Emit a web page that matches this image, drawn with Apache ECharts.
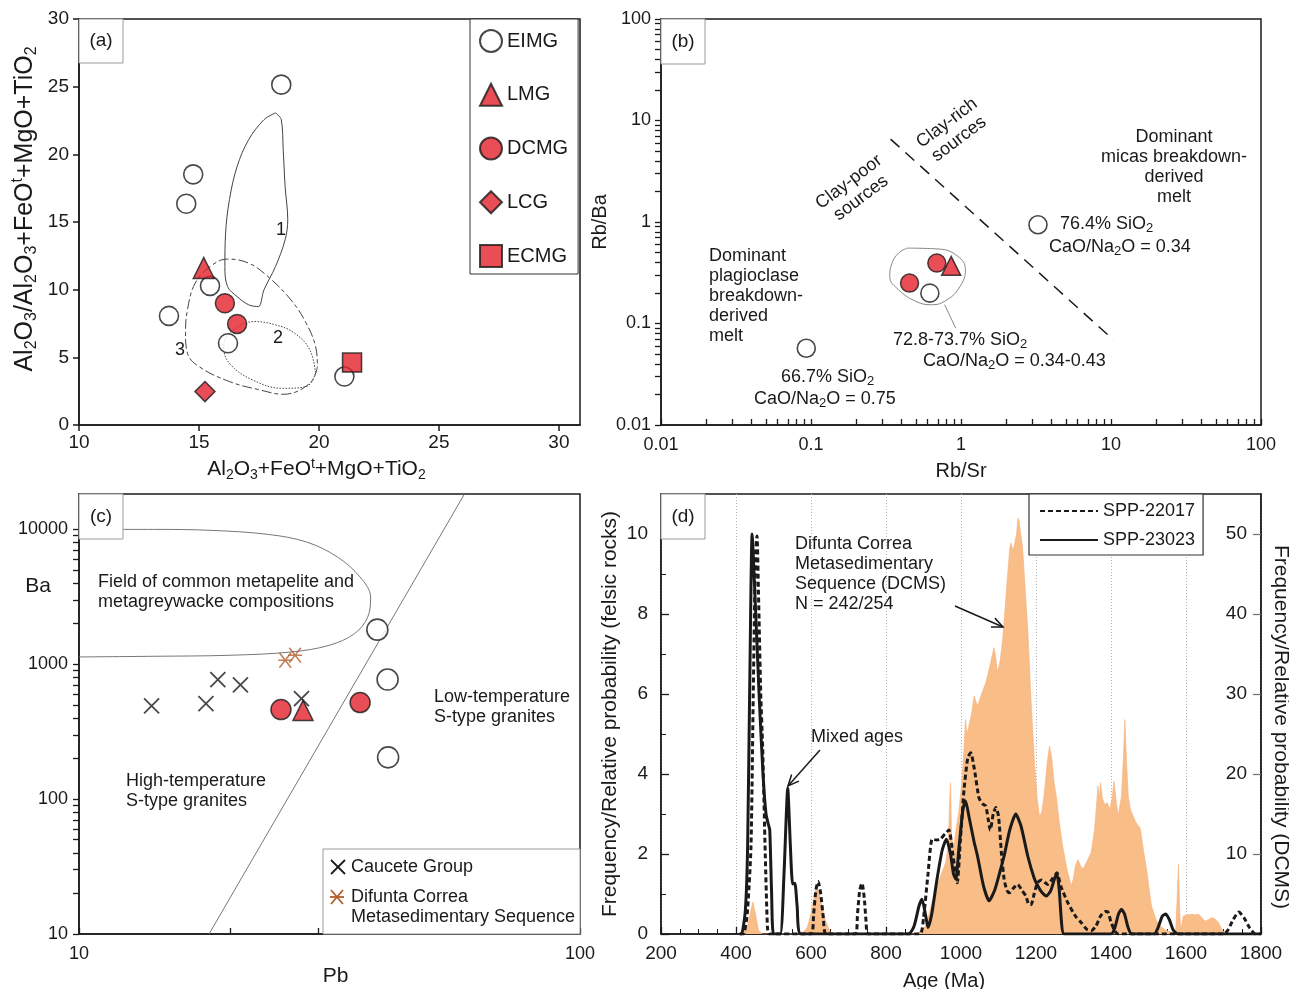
<!DOCTYPE html>
<html><head><meta charset="utf-8">
<script src="https://cdn.jsdelivr.net/npm/echarts@6/dist/echarts.min.js"></script>
<style>html,body{margin:0;padding:0;background:#fff}#c{width:1289px;height:989px}</style>
</head><body><div id="c"></div>
<script>
// ---------------- Panel (a) data ----------------
const aEIMG = [[18.43,25.15],[14.76,18.52],[14.47,16.35],[15.46,10.28],[13.75,8.06],[16.21,6.04],[21.06,3.58]];
const aLMG  = [[15.2,11.6]];
const aDCMG = [[16.08,9.0],[16.59,7.47]];
const aLCG  = [[15.25,2.47]];
const aECMG = [[21.38,4.61]];
const aField1 = [[18.19,23.06],[18.43,22.56],[18.51,20.35],[18.59,17.63],[18.70,15.17],[18.59,13.69],[18.19,11.71],[17.71,9.99],[17.47,8.75],[17.07,8.88],[16.59,9.49],[16.19,10.23],[16.08,11.71],[16.11,14.18],[16.27,16.65],[16.59,19.11],[17.07,21.08],[17.71,22.56],[18.19,23.06]];
const aField2 = [[19.86,3.82],[19.47,2.84],[18.51,2.71],[17.23,3.33],[16.27,4.56],[16.03,5.80],[16.35,6.91],[17.31,7.64],[18.19,7.40],[18.99,6.78],[19.62,5.55],[19.86,3.82]];
const aField3 = [[19.94,4.32],[19.62,3.08],[18.51,2.27],[17.55,2.59],[16.27,3.21],[15.0,4.32],[14.52,5.30],[14.44,6.78],[14.52,8.51],[14.84,10.48],[15.47,11.71],[16.19,12.26],[17.07,11.96],[17.87,10.97],[18.83,9.25],[19.47,7.52],[19.86,5.80],[19.94,4.32]];
const aXTicks = [10,15,20,25,30];
const aYTicks = [0,5,10,15,20,25,30];

// ---------------- Panel (b) data ----------------
const bEIMG = [[0.093,0.057],[3.26,0.94],[0.62,0.199]];
const bLMG  = [[0.86,0.37]];
const bDCMG = [[0.454,0.25],[0.69,0.394]];
const bDivider = [[0.339,6.56],[10.4,0.0689]];
const bOutline = [[0.438,0.553],[0.704,0.542],[0.953,0.459],[1.07,0.339],[0.986,0.232],[0.806,0.171],[0.636,0.153],[0.502,0.165],[0.384,0.215],[0.335,0.291],[0.347,0.394],[0.384,0.494],[0.438,0.553]];
const bLeader = [[0.778,0.153],[0.922,0.09]];
const bTicks = [0.01,0.1,1,10,100];

// ---------------- Panel (c) data ----------------
const cCaucete = [[13.96,491],[17.92,511],[18.93,769],[21.0,703],[27.8,557]];
const cDCMS = [[25.8,1071],[27.0,1166]];
const cDCMG = [[25.3,461],[36.4,520]];
const cLMG  = [[28.0,455]];
const cEIMG = [[39.4,1806],[41.3,770],[41.4,204]];
const cBoundary = [[18.18,10],[58.8,18300]];
const cField = [[10,10000],[14.09,10000],[18.34,9840],[23.87,9180],[28.5,8050],[32.8,6240],[36.4,4430],[38.2,3150],[37.7,2240],[35.5,1690],[31.6,1383],[26.5,1233],[20.0,1166],[14.1,1146],[10,1133]];
const cXTicks = [10,100];
const cYTicks = [10,100,1000,10000];

// ---------------- Panel (d) data ----------------
const dSPP23023 = [[410,0],[415,0],[425,0.6],[431,2.2],[437,6.5],[443,10.0],[450,8.6],[462,5.9],[472,4.0],[480,3.0],[486,2.75],[490,2.6],[495,1.0],[500,0],[518,0],[528,1.5],[538,3.65],[545,2.2],[551,1.25],[557,1.27],[563,0.7],[573,0],[860,0],[875,0.2],[888,0.7],[896,0.87],[905,0.5],[912,0.16],[922,0.5],[936,1.37],[950,2.1],[961,2.37],[972,2.0],[980,1.5],[986,1.37],[995,2.2],[1005,3.1],[1012,3.33],[1022,2.9],[1035,2.3],[1044,1.95],[1060,1.2],[1075,0.83],[1090,1.1],[1105,1.6],[1115,1.95],[1130,2.6],[1146,3.0],[1160,2.7],[1178,1.95],[1195,1.4],[1205,1.2],[1215,1.05],[1228,0.95],[1240,1.1],[1250,1.4],[1256,1.5],[1262,1.1],[1268,0.3],[1275,0],[1400,0],[1410,0.15],[1420,0.5],[1428,0.62],[1436,0.5],[1446,0.15],[1455,0],[1515,0],[1525,0.15],[1537,0.45],[1546,0.5],[1556,0.35],[1566,0.1],[1578,0],[1800,0]];
const dSPP22017 = [[410,0],[420,0],[430,0.5],[440,2.2],[446,6],[452,9.5],[456,9.95],[460,8.5],[466,6.0],[471,4.7],[478,2.0],[484,0.15],[489,0],[600,0],[607,0.5],[613,1.1],[619,1.31],[626,1.0],[633,0.4],[640,0],[718,0],[724,0.5],[730,1.1],[736,1.27],[742,0.9],[747,0.3],[752,0],[890,0],[900,0.4],[912,1.5],[923,2.37],[935,2.35],[945,2.37],[957,2.5],[968,2.6],[978,2.0],[990,1.28],[998,2.3],[1008,3.6],[1018,4.4],[1026,4.53],[1036,4.1],[1048,3.4],[1058,3.25],[1066,3.2],[1072,2.9],[1078,2.6],[1086,3.0],[1093,3.16],[1100,2.95],[1108,2.0],[1115,1.37],[1122,1.1],[1129,1.03],[1140,1.15],[1151,1.24],[1162,1.1],[1173,0.95],[1180,0.75],[1187,0.74],[1195,1.0],[1204,1.28],[1215,1.35],[1231,1.24],[1245,1.4],[1256,1.53],[1266,1.2],[1285,0.78],[1305,0.45],[1321,0.28],[1335,0.12],[1347,0.08],[1360,0.2],[1372,0.45],[1385,0.56],[1392,0.55],[1400,0.3],[1410,0.08],[1419,0],[1700,0],[1712,0.1],[1725,0.35],[1741,0.55],[1755,0.4],[1770,0.15],[1785,0],[1800,0]];
const dDCMS = [[415,0],[430,0.8],[440,3.0],[445,4.0],[452,2.5],[460,0.5],[470,0],[575,0],[590,0.8],[600,2.5],[608,4.5],[614,5.9],[622,5.0],[630,3.2],[640,1.5],[653,0],[880,0],[895,0.5],[905,1],[915,2.5],[927,4.75],[940,6.5],[950,7.8],[959,8.9],[966,11],[970,17],[972,18.9],[975,12],[981,11],[988,13.5],[994,15.2],[1002,19],[1008,23.1],[1012,26.8],[1016,25],[1021,24.75],[1028,27.5],[1035,29.75],[1040,29.5],[1044,28.5],[1055,30],[1066,31.4],[1072,32.5],[1079,33.9],[1084,35],[1088,35.8],[1093,34.5],[1097,32.7],[1104,34],[1111,36.8],[1118,41],[1124,44.75],[1130,48.2],[1133,48.9],[1138,48],[1142,48.5],[1148,50],[1152,52],[1155,51.6],[1159,50],[1164,48.5],[1170,44],[1178,38.1],[1187,29],[1196,21.4],[1203,17],[1209,14.75],[1215,15.2],[1222,17.5],[1230,21.5],[1236,23.5],[1242,22],[1248,19],[1254,17.25],[1262,14],[1271,11],[1283,8],[1294,6],[1300,7],[1305,8.5],[1312,9.3],[1318,8.6],[1325,8.1],[1335,9],[1347,10.2],[1356,13],[1362,16.5],[1365,18.5],[1369,17],[1372,18.9],[1377,17],[1383,16.2],[1390,16.4],[1397,15.6],[1403,17],[1408,19.1],[1413,17],[1419,14.75],[1424,15],[1428,17.25],[1433,22],[1437,26.8],[1441,22],[1446,17.25],[1452,15.5],[1459,14.75],[1466,14],[1473,13.5],[1478,13.2],[1482,13.1],[1488,10],[1495,8.1],[1502,5.5],[1508,3.5],[1520,1.8],[1531,1],[1545,0.5],[1562,0.2],[1572,0.2],[1576,4],[1580,8.7],[1583,3],[1586,0.5],[1593,2.25],[1605,2.4],[1616,2.46],[1625,2.4],[1634,2.46],[1643,2.0],[1651,1.6],[1660,1.8],[1667,2.0],[1674,2.0],[1681,1.7],[1687,1.4],[1695,0.6],[1705,0]];
const dLeftTicks = [0,2,4,6,8,10];
const dRightTicks = [10,20,30,40,50];

// ---------------- styling ----------------
const FF = '"Liberation Sans", Arial, Helvetica, sans-serif';
const INK = '#1a1a1a';
const RED = '#E3202A';
const ORANGE = '#F9BD88';
const BROWN = '#B35E2C';
function richFor(sub) {
  return {
    s: {fontSize: sub, lineHeight: sub - 1, verticalAlign: 'bottom', fontFamily: FF, color: INK, fill: INK},
    t: {fontSize: sub, lineHeight: sub - 1, verticalAlign: 'top', fontFamily: FF, color: INK, fill: INK}
  };
}
const RICH = richFor(13);
function minorLog(e0, e1) {
  const out = [];
  for (let e = e0; e < e1; e++) for (let m = 1; m <= 9; m++) out.push(+(m * Math.pow(10, e)).toPrecision(3));
  out.push(+Math.pow(10, e1).toPrecision(3));
  return out;
}
const fmt = v => String(+(+v).toPrecision(6));
const axLine = {show: true, onZero: false, lineStyle: {color: INK, width: 1.5}};
function nameStyle(sz, extra) {
  return Object.assign({fontSize: sz, color: INK, fontFamily: FF, lineHeight: Math.round(sz * 1.2), rich: richFor(Math.round(sz * 0.65))}, extra || {});
}

const chart = echarts.init(document.getElementById('c'), null, {renderer: 'canvas'});

function gridBox(left, top, width, height) {
  return {left, top, width, height, show: true, borderColor: INK, borderWidth: 1.5, containLabel: false, outerBoundsMode: 'none'};
}

// graphic helpers
function T(x, y, text, o) {
  return {type: 'text', x, y, z: 50, silent: true,
    style: Object.assign({text, fontSize: 18, fontFamily: FF, fill: INK, align: 'left', verticalAlign: 'middle', lineHeight: 20, rich: RICH}, o || {})};
}
function box(x, y, w, h, label) {
  return [
    {type: 'rect', z: 60, silent: true, shape: {x, y, width: w, height: h}, style: {fill: '#fff', stroke: '#9a9a9a', lineWidth: 1}},
    {type: 'text', z: 61, silent: true, x: x + w / 2, y: y + h / 2, style: {text: label, fontSize: 19, fontFamily: FF, fill: INK, align: 'center', verticalAlign: 'middle'}}
  ];
}
function arrow(x1, y1, x2, y2) {
  const ang = Math.atan2(y2 - y1, x2 - x1), L = 12, a = 0.42;
  const p1 = [x2 - L * Math.cos(ang - a), y2 - L * Math.sin(ang - a)];
  const p2 = [x2 - L * Math.cos(ang + a), y2 - L * Math.sin(ang + a)];
  return [
    {type: 'line', z: 50, silent: true, shape: {x1, y1, x2, y2}, style: {stroke: INK, lineWidth: 1.5}},
    {type: 'polyline', z: 50, silent: true, shape: {points: [p1, [x2, y2], p2]}, style: {stroke: INK, lineWidth: 1.5, fill: null}}
  ];
}
function seg(p, q, color, w) {
  return {type: 'polyline', z: 41, silent: true, shape: {points: [p, q]}, style: {stroke: color, lineWidth: w, fill: null}};
}

const redItem = {color: RED, borderColor: INK, borderWidth: 1.5};
const openItem = {color: '#fff', borderColor: INK, borderWidth: 1.6};
const curve = (name, data, xi, yi, ls, smooth) => ({
  name, type: 'line', xAxisIndex: xi, yAxisIndex: yi, data, showSymbol: false, symbol: 'none',
  smooth: smooth, lineStyle: ls, silent: true, z: 1, clip: true
});
const sc = (name, data, xi, yi, symbol, size, item, z) => ({
  name, type: 'scatter', xAxisIndex: xi, yAxisIndex: yi, data, symbol, symbolSize: size, itemStyle: item, z: z || 3, silent: true
});
const XPATH = 'path://M0,0L10,10M10,0L0,10';
const ASTPATH = 'path://M1,0L11,12M11,0L1,12M0,6L12,6';

const option = {
  animation: false,
  backgroundColor: '#fff',
  textStyle: {fontFamily: FF},
  grid: [
    gridBox(79, 19, 501, 406),
    gridBox(661, 19, 600, 406),
    gridBox(79, 494, 501, 440),
    gridBox(661, 494, 600, 440)
  ],
  xAxis: [
    {gridIndex: 0, type: 'value', min: 10, max: 30.88, interval: 5,
      name: 'Al{s|2}O{s|3}+FeO{t|t}+MgO+TiO{s|2}', nameLocation: 'middle', nameGap: 32,
      nameTextStyle: nameStyle(21, {padding: [0, 26, 0, 0]}),
      axisLine: axLine, axisTick: {show: true, inside: false, length: 6, lineStyle: {color: INK, width: 1.5}, customValues: aXTicks},
      axisLabel: {fontSize: 19, color: INK, margin: 8, customValues: aXTicks}, splitLine: {show: false}},
    {gridIndex: 1, type: 'log', logBase: 10, min: 0.01, max: 100,
      name: 'Rb/Sr', nameLocation: 'middle', nameGap: 34, nameTextStyle: nameStyle(20),
      axisLine: axLine, axisTick: {show: true, inside: true, length: 6, lineStyle: {color: INK, width: 1.3}, customValues: minorLog(-2, 2)},
      axisLabel: {fontSize: 18, color: INK, margin: 11, customValues: bTicks, formatter: fmt}, splitLine: {show: false}, minorTick: {show: false}},
    {gridIndex: 2, type: 'log', logBase: 10, min: 10, max: 100,
      name: 'Pb', nameLocation: 'middle', nameGap: 29, nameTextStyle: nameStyle(21, {padding: [0, 0, 0, 12]}),
      axisLine: axLine, axisTick: {show: true, inside: true, length: 6, lineStyle: {color: INK, width: 1.3}, customValues: minorLog(1, 2)},
      axisLabel: {fontSize: 18, color: INK, margin: 11, customValues: cXTicks, formatter: fmt}, splitLine: {show: false}},
    {gridIndex: 3, type: 'value', min: 200, max: 1800, interval: 200,
      name: 'Age (Ma)', nameLocation: 'middle', nameGap: 35, nameTextStyle: nameStyle(20, {padding: [0, 34, 0, 0]}),
      axisLine: axLine, axisTick: {show: true, inside: true, length: 7, lineStyle: {color: INK, width: 1.3}},
      minorTick: {show: true, splitNumber: 4, length: 5, lineStyle: {color: INK, width: 1}},
      axisLabel: {fontSize: 19, color: INK, margin: 10, formatter: v => String(v)},
      splitLine: {show: true, lineStyle: {color: '#b5b5b5', width: 1, type: [1, 2]}}}
  ],
  yAxis: [
    {gridIndex: 0, type: 'value', min: 0, max: 30, interval: 5,
      name: 'Al{s|2}O{s|3}/Al{s|2}O{s|3}+FeO{t|t}+MgO+TiO{s|2}', nameLocation: 'middle', nameGap: 39,
      nameTextStyle: nameStyle(25, {padding: [0, 0, 0, 26]}),
      axisLine: axLine, axisTick: {show: true, inside: false, length: 6, lineStyle: {color: INK, width: 1.5}, customValues: aYTicks},
      axisLabel: {fontSize: 19, color: INK, margin: 10, customValues: aYTicks}, splitLine: {show: false}},
    {gridIndex: 1, type: 'log', logBase: 10, min: 0.01, max: 100,
      name: 'Rb/Ba', nameLocation: 'middle', nameGap: 43, nameTextStyle: nameStyle(20),
      axisLine: axLine, axisTick: {show: true, inside: false, length: 6, lineStyle: {color: INK, width: 1.3}, customValues: minorLog(-2, 2)},
      axisLabel: {fontSize: 18, color: INK, margin: 10, customValues: bTicks, formatter: fmt}, splitLine: {show: false}},
    {gridIndex: 2, type: 'log', logBase: 10, min: 10, max: 18300,
      axisLine: axLine, axisTick: {show: true, inside: false, length: 6, lineStyle: {color: INK, width: 1.3}, customValues: minorLog(1, 4)},
      axisLabel: {fontSize: 18, color: INK, margin: 11, customValues: cYTicks, formatter: fmt}, splitLine: {show: false}},
    {gridIndex: 3, type: 'value', min: 0, max: 11, interval: 2, position: 'left',
      name: 'Frequency/Relative probability (felsic rocks)', nameLocation: 'middle', nameGap: 35, nameTextStyle: nameStyle(21),
      axisLine: axLine, axisTick: {show: true, inside: true, length: 8, lineStyle: {color: INK, width: 1.3}, customValues: dLeftTicks},
      minorTick: {show: true, splitNumber: 2, length: 5, lineStyle: {color: INK, width: 1}},
      axisLabel: {fontSize: 19, color: INK, margin: 13, customValues: dLeftTicks}, splitLine: {show: false}},
    {gridIndex: 3, type: 'value', min: 0, max: 55, interval: 10, position: 'right',
      name: 'Frequency/Relative probability (DCMS)', nameLocation: 'middle', nameGap: 7, nameRotate: -90,
      nameTextStyle: nameStyle(21, {padding: [0, 0, 0, 26]}),
      axisLine: axLine, axisTick: {show: true, inside: true, length: 8, lineStyle: {color: '#777', width: 1.3}, customValues: dRightTicks},
      axisLabel: {fontSize: 19, color: INK, margin: 14, inside: true, customValues: dRightTicks}, splitLine: {show: false}}
  ],
  legend: [
    {data: ['EIMG', 'LMG', 'DCMG', 'LCG', 'ECMG'], orient: 'vertical', left: 470, top: 19,
      padding: [10, 10, 6, 9], itemGap: 29.75, itemWidth: 22, itemHeight: 22, selectedMode: false,
      textStyle: {fontSize: 20, color: INK, fontFamily: FF}, borderColor: '#333', borderWidth: 1, backgroundColor: '#fff', z: 20},
    {data: ['SPP-22017', 'SPP-23023'], orient: 'vertical', left: 1029, top: 494,
      padding: [8, 8, 6, 10], itemGap: 11, itemWidth: 58, itemHeight: 14, selectedMode: false,
      itemStyle: {opacity: 0},
      textStyle: {fontSize: 18, color: INK, fontFamily: FF}, borderColor: '#333', borderWidth: 1.2, backgroundColor: '#fff', z: 20}
  ],
  series: [
    // (a)
    curve('field1', aField1, 0, 0, {color: '#444', width: 1}, 0.35),
    curve('field2', aField2, 0, 0, {color: '#444', width: 1, type: [1.5, 1.5]}, 0.4),
    curve('field3', aField3, 0, 0, {color: '#444', width: 1, type: [10, 3, 4, 3]}, 0.4),
    sc('EIMG', aEIMG, 0, 0, 'circle', 19, openItem),
    sc('LMG', aLMG, 0, 0, 'triangle', 21, redItem, 4),
    sc('DCMG', aDCMG, 0, 0, 'circle', 19, redItem),
    sc('LCG', aLCG, 0, 0, 'diamond', 20, redItem),
    sc('ECMG', aECMG, 0, 0, 'rect', 19, redItem),
    // (b)
    curve('divider', bDivider, 1, 1, {color: INK, width: 1.5, type: [12, 8]}, false),
    curve('outline', bOutline, 1, 1, {color: '#888', width: 1}, 0.45),
    curve('leader', bLeader, 1, 1, {color: '#888', width: 1}, false),
    sc('EIMG (b)', bEIMG, 1, 1, 'circle', 18, openItem),
    sc('DCMG (b)', bDCMG, 1, 1, 'circle', 18, redItem),
    sc('LMG (b)', bLMG, 1, 1, 'triangle', 19, redItem, 4),
    // (c)
    curve('boundary', cBoundary, 2, 2, {color: '#777', width: 1}, false),
    curve('metapelite field', cField, 2, 2, {color: '#777', width: 1}, 0.35),
    sc('Caucete Group', cCaucete, 2, 2, XPATH, 15, {color: 'rgba(0,0,0,0)', borderColor: INK, borderWidth: 1.8}),
    sc('Difunta Correa Metasedimentary Sequence', cDCMS, 2, 2, ASTPATH, [14, 15], {color: 'rgba(0,0,0,0)', borderColor: BROWN, borderWidth: 1.6}),
    sc('DCMG (c)', cDCMG, 2, 2, 'circle', 20, redItem),
    sc('LMG (c)', cLMG, 2, 2, 'triangle', 20, redItem, 4),
    sc('EIMG (c)', cEIMG, 2, 2, 'circle', 21, openItem),
    // (d)
    {name: 'DCMS', type: 'line', xAxisIndex: 3, yAxisIndex: 4, data: dDCMS, showSymbol: false, symbol: 'none',
      lineStyle: {color: '#F6B07A', width: 0.6}, areaStyle: {color: ORANGE, opacity: 1}, z: 1, silent: true},
    {name: 'SPP-22017', type: 'line', xAxisIndex: 3, yAxisIndex: 3, data: dSPP22017, showSymbol: false, symbol: 'none',
      smooth: 0.2, lineStyle: {color: INK, width: 3, type: [5, 3]}, itemStyle: {color: INK}, z: 3, silent: true},
    {name: 'SPP-23023', type: 'line', xAxisIndex: 3, yAxisIndex: 3, data: dSPP23023, showSymbol: false, symbol: 'none',
      smooth: 0.2, lineStyle: {color: INK, width: 3}, itemStyle: {color: INK}, z: 4, silent: true}
  ],
  graphic: {elements: [].concat(
    box(79, 19, 44, 44, '(a)'),
    box(661, 19, 44, 45, '(b)'),
    box(79, 494, 44, 45, '(c)'),
    box(661, 494, 44, 45, '(d)'),
    // (a) field numbers
    [T(281, 230, '1', {align: 'center'}), T(278, 338, '2', {align: 'center'}), T(180, 350, '3', {align: 'center'})],
    // (b) annotations
    [
      T(709, 246, 'Dominant\nplagioclase\nbreakdown-\nderived\nmelt', {verticalAlign: 'top'}),
      T(1174, 127, 'Dominant\nmicas breakdown-\nderived\nmelt', {verticalAlign: 'top', align: 'center'}),
      T(1060, 224, '76.4% SiO{s|2}', {lineHeight: 22}),
      T(1049, 247, 'CaO/Na{s|2}O = 0.34', {lineHeight: 22}),
      T(893, 340, '72.8-73.7% SiO{s|2}', {lineHeight: 22}),
      T(923, 361, 'CaO/Na{s|2}O = 0.34-0.43', {lineHeight: 22}),
      T(781, 377, '66.7% SiO{s|2}', {lineHeight: 22}),
      T(754, 399, 'CaO/Na{s|2}O = 0.75', {lineHeight: 22}),
      Object.assign(T(855, 190, 'Clay-poor\nsources', {align: 'center'}), {rotation: 37 * Math.PI / 180}),
      Object.assign(T(953, 131, 'Clay-rich\nsources', {align: 'center'}), {rotation: 37 * Math.PI / 180})
    ],
    // (c) annotations
    [
      T(98, 572, 'Field of common metapelite and\nmetagreywacke compositions', {verticalAlign: 'top'}),
      T(434, 687, 'Low-temperature\nS-type granites', {verticalAlign: 'top'}),
      T(126, 771, 'High-temperature\nS-type granites', {verticalAlign: 'top'}),
      T(38, 586, 'Ba', {align: 'center', fontSize: 21}),
      {type: 'rect', z: 40, silent: true, shape: {x: 323, y: 849, width: 257, height: 85}, style: {fill: '#fff', stroke: '#999', lineWidth: 1}},
      seg([331, 860], [345, 874], INK, 1.8),
      seg([345, 860], [331, 874], INK, 1.8),
      seg([331, 890], [343, 904], BROWN, 1.8),
      seg([343, 890], [331, 904], BROWN, 1.8),
      seg([330, 897], [344, 897], BROWN, 1.8),
      T(351, 867, 'Caucete Group'),
      T(351, 887, 'Difunta Correa\nMetasedimentary Sequence', {verticalAlign: 'top'})
    ],
    // (d) annotations
    [
      T(795, 534, 'Difunta Correa\nMetasedimentary\nSequence (DCMS)\nN = 242/254', {verticalAlign: 'top'}),
      T(811, 737, 'Mixed ages')
    ],
    arrow(955, 606, 1003, 627),
    arrow(820, 750, 788, 786)
  )}
};
chart.setOption(option);
</script></body></html>
